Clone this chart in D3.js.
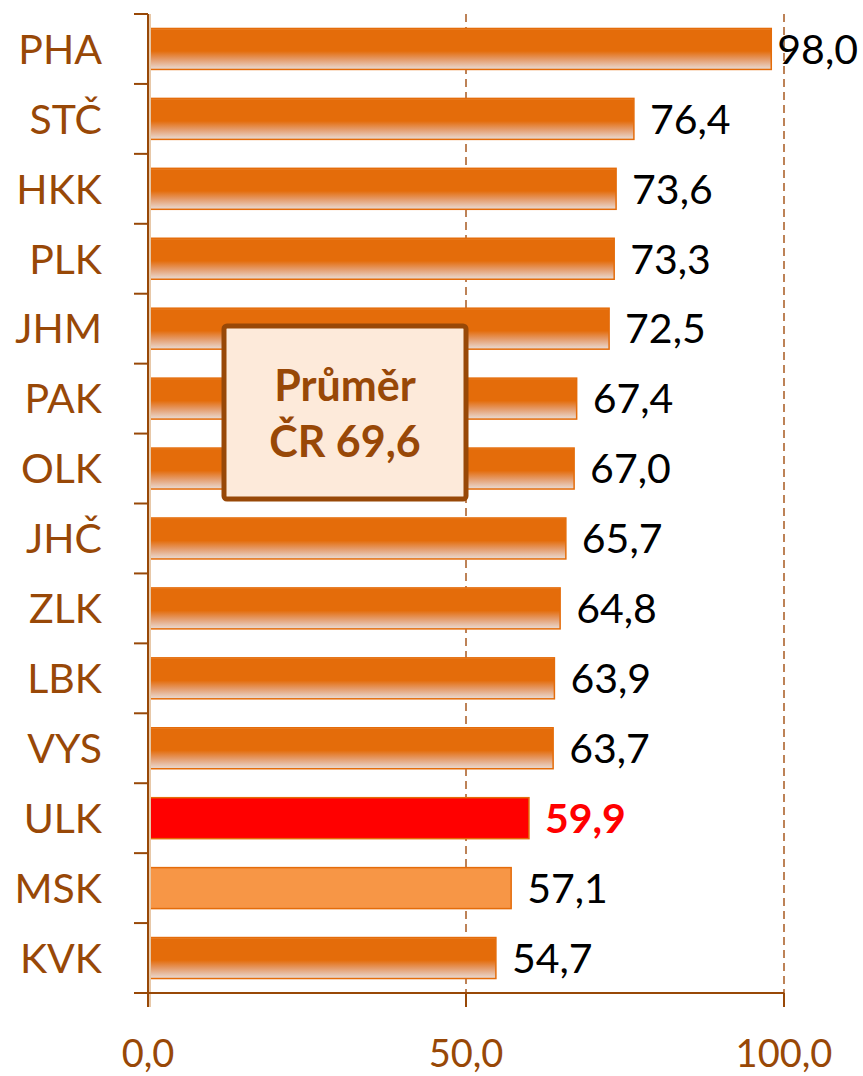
<!DOCTYPE html>
<html>
<head>
<meta charset="utf-8">
<script src="https://cdn.jsdelivr.net/npm/d3@7/dist/d3.min.js"></script>
<style>
  body { margin: 0; background: #fff; }
  text { font-family: Lato, "Open Sans", sans-serif; }
</style>
</head>
<body>
<div id="chart"></div>
<script>
var regions = ["PHA", "STČ", "HKK", "PLK", "JHM", "PAK", "OLK", "JHČ", "ZLK", "LBK", "VYS", "ULK", "MSK", "KVK"];
var values = [98.0, 76.4, 73.6, 73.3, 72.5, 67.4, 67.0, 65.7, 64.8, 63.9, 63.7, 59.9, 57.1, 54.7];
var xTicks = [0, 50, 100];
var averageLines = ["Průměr", "ČR 69,6"];

var width = 863, height = 1076,
    margin = {top: 14, right: 79, bottom: 83, left: 148},
    brown = "#984807", orange = "#E46C0A";

var fmt = d => d.toFixed(1).replace(".", ",");

var x = d3.scaleLinear().domain([0, 100]).range([margin.left, width - margin.right]),
    y = d3.scaleBand().domain(regions).range([margin.top, height - margin.bottom]).paddingInner(0.414).paddingOuter(0.207);

var svg = d3.select("#chart").append("svg")
    .attr("width", width)
    .attr("height", height);

var defs = svg.append("defs");
var grad = defs.append("linearGradient")
    .attr("id", "barGrad")
    .attr("x1", 0).attr("y1", 0).attr("x2", 0).attr("y2", 1);
grad.append("stop").attr("offset", "0%").attr("stop-color", "#EE9A55");
grad.append("stop").attr("offset", "4%").attr("stop-color", orange);
grad.append("stop").attr("offset", "55%").attr("stop-color", orange);
grad.append("stop").attr("offset", "75%").attr("stop-color", "#E59A68");
grad.append("stop").attr("offset", "100%").attr("stop-color", "#E9DCD6");

// dashed gridlines
svg.append("g")
    .selectAll("line")
    .data(xTicks.slice(1))
  .enter().append("line")
    .attr("x1", d => x(d)).attr("x2", d => x(d))
    .attr("y1", margin.top).attr("y2", height - margin.bottom)
    .attr("stroke", "#A85A20")
    .attr("stroke-width", 1.5)
    .attr("stroke-dasharray", "8,5");

// bars
var data = regions.map((r, i) => ({region: r, value: values[i]}));

svg.append("g")
    .selectAll("rect")
    .data(data)
  .enter().append("rect")
    .attr("x", x(0))
    .attr("y", d => y(d.region))
    .attr("width", d => x(d.value) - x(0))
    .attr("height", y.bandwidth())
    .attr("fill", d => d.region === "ULK" ? "#FF0000" : d.region === "MSK" ? "#F79646" : "url(#barGrad)")
    .attr("stroke", orange)
    .attr("stroke-width", 1.5);

// value labels
svg.append("g")
    .selectAll("text")
    .data(data)
  .enter().append("text")
    .attr("y", d => y(d.region) + y.bandwidth() / 2)
    .attr("dy", "0.36em")
    .attr("font-size", 41)
    .attr("font-weight", d => d.region === "ULK" ? "bold" : "normal")
    .attr("fill", d => d.region === "ULK" ? "#FF0000" : "#000")
    .text(d => fmt(d.value))
    .attr("x", function (d) {
        var w = this.getComputedTextLength();
        return Math.min(x(d.value) + 16, width - 5 - w);
    });

// y axis
var yAxis = svg.append("g")
    .attr("transform", `translate(${x(0)},0)`);
yAxis.append("line")
    .attr("x1", 2).attr("x2", 2)
    .attr("y1", margin.top).attr("y2", height - margin.bottom + 14)
    .attr("stroke", "#E8C8A8").attr("stroke-width", 2);
yAxis.append("line")
    .attr("y1", margin.top).attr("y2", height - margin.bottom + 14)
    .attr("stroke", brown).attr("stroke-width", 2);
var boundaries = regions.map(r => y(r) - y.step() * y.paddingInner() / 2).concat([height - margin.bottom]);
yAxis.selectAll(".tick")
    .data(boundaries)
  .enter().append("line")
    .attr("x1", -14).attr("x2", 0)
    .attr("y1", d => d).attr("y2", d => d)
    .attr("stroke", brown).attr("stroke-width", 2);
yAxis.selectAll(".lbl")
    .data(regions)
  .enter().append("text")
    .attr("x", -46)
    .attr("y", d => y(d) + y.bandwidth() / 2)
    .attr("dy", "0.36em")
    .attr("text-anchor", "end")
    .attr("font-size", 41)
    .attr("fill", brown)
    .text(d => d);

// x axis
var xAxis = svg.append("g");
xAxis.append("line")
    .attr("x1", x(0) - 14).attr("x2", x(100))
    .attr("y1", height - margin.bottom).attr("y2", height - margin.bottom)
    .attr("stroke", brown).attr("stroke-width", 2);
xAxis.selectAll(".tick")
    .data(xTicks)
  .enter().append("line")
    .attr("x1", d => x(d)).attr("x2", d => x(d))
    .attr("y1", height - margin.bottom).attr("y2", height - margin.bottom + 14)
    .attr("stroke", brown).attr("stroke-width", 2);
xAxis.selectAll(".lbl")
    .data(xTicks)
  .enter().append("text")
    .attr("x", d => x(d))
    .attr("y", height - 9)
    .attr("text-anchor", "middle")
    .attr("font-size", 38)
    .attr("fill", brown)
    .text(d => fmt(d));

// average annotation box
var box = svg.append("g").attr("transform", "translate(224,326)");
box.append("rect")
    .attr("width", 242).attr("height", 173)
    .attr("rx", 3)
    .attr("fill", "#FDEADA")
    .attr("stroke", brown)
    .attr("stroke-width", 5);
box.selectAll("text")
    .data(averageLines)
  .enter().append("text")
    .attr("x", 121)
    .attr("y", (d, i) => 75 + i * 56)
    .attr("text-anchor", "middle")
    .attr("font-size", 43)
    .attr("font-weight", "bold")
    .attr("fill", brown)
    .text(d => d);
</script>
</body>
</html>
